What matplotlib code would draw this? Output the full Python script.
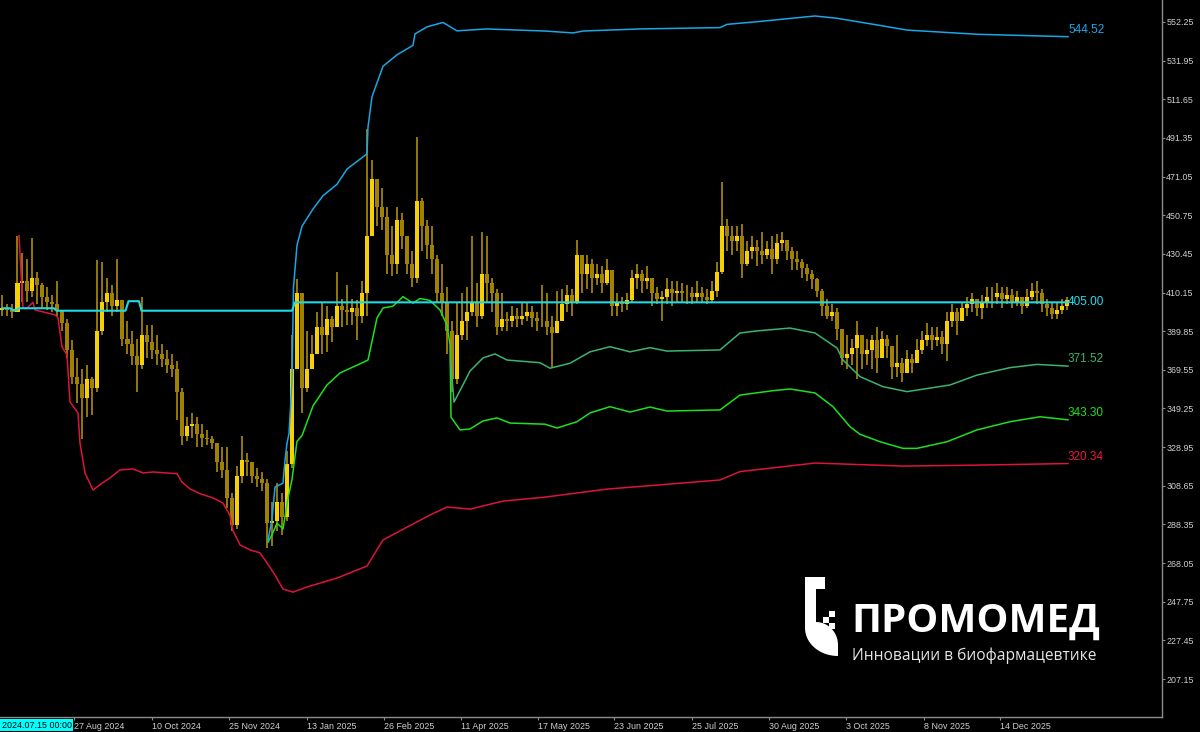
#!/usr/bin/env python3
import matplotlib

matplotlib.use("Agg")
import matplotlib.pyplot as plt
import numpy as np
from matplotlib.patches import Polygon, Rectangle

W, H = 1200, 732

# candles, one per ~2 sessions (open = previous close)
first_open = 401.0
close = [
    402, 401, 400, 415, 416, 411, 418, 414, 408, 405, 404, 401, 394, 380, 366, 362, 355, 365, 360, 390,
    405, 410, 403, 406, 386, 383, 377, 372, 388, 384, 380, 378, 375, 372, 370, 358, 335, 340, 341, 336,
    334, 333, 331, 321, 317, 302, 288, 314, 322, 321, 314, 312, 310, 289,
    290, 300, 292, 320, 370, 410, 360, 370, 378, 392, 388, 396, 392, 403, 401, 400, 402, 398, 410, 440,
    470, 455, 450, 430, 425, 448, 440, 425, 418, 458, 445, 435, 428, 410, 405, 390, 365, 388, 395, 400,
    405, 398, 420, 415, 410, 392, 396, 395, 398, 396, 398, 400, 397, 395,
    395, 392, 389, 395, 404, 409, 405, 430, 420, 425, 418, 420, 415, 422, 403, 405, 404, 406, 418, 420,
    416, 418, 410, 407, 408, 412, 410, 411, 410, 410, 408, 410, 408, 406, 411, 421, 445, 440, 437, 440,
    425, 432, 434, 432, 430, 433, 428, 436, 438, 432, 428, 426, 423, 420, 417,
    411, 403, 398, 400, 391, 376, 378, 381, 388, 378, 380, 385, 376, 386, 382, 371, 373, 368, 375, 373,
    380, 385, 388, 385, 387, 383, 395, 400, 395, 402, 404, 407, 402, 405, 408, 408, 410, 407, 409, 405,
    408, 403, 408, 411, 410, 404, 402, 399, 401, 403, 406,
]
high = [
    409, 404, 404, 440, 431, 428, 439, 421, 415, 413, 409, 416, 401, 396, 385, 376, 370, 372, 366, 427,
    426, 418, 414, 428, 405, 395, 390, 386, 408, 393, 393, 388, 383, 380, 378, 374, 360, 345, 347, 345,
    341, 338, 335, 331, 329, 329, 305, 319, 335, 326, 320, 318, 316, 312,
    300, 310, 305, 327, 388, 417, 405, 390, 388, 400, 405, 403, 398, 421, 407, 414, 407, 406, 416, 496,
    480, 470, 465, 455, 445, 455, 452, 440, 432, 492, 460, 448, 445, 430, 425, 413, 395, 405, 410, 413,
    440, 415, 442, 440, 418, 412, 410, 400, 403, 402, 405, 405, 403, 400,
    414, 410, 398, 411, 412, 414, 412, 438, 428, 430, 428, 425, 424, 428, 420, 410, 408, 410, 422, 425,
    422, 424, 418, 413, 411, 418, 416, 416, 415, 414, 413, 416, 413, 412, 416, 426, 468, 449, 445, 445,
    446, 437, 440, 438, 442, 437, 440, 441, 442, 437, 434, 432, 428, 425, 422,
    418, 412, 407, 404, 402, 391, 388, 386, 395, 384, 386, 388, 392, 390, 388, 378, 388, 376, 380, 378,
    386, 390, 394, 392, 392, 390, 400, 404, 402, 405, 408, 410, 407, 409, 413, 413, 415, 413, 413, 412,
    411, 408, 412, 415, 416, 412, 407, 405, 405, 407, 408,
]
low = [
    398, 398, 397, 401, 405, 405, 408, 404, 402, 401, 400, 398, 390, 376, 362, 352, 333, 345, 346, 358,
    388, 400, 398, 400, 382, 378, 372, 358, 370, 376, 375, 372, 371, 368, 366, 343, 330, 332, 334, 329,
    329, 330, 328, 316, 313, 297, 285, 286, 310, 314, 310, 308, 306, 276,
    277, 285, 283, 290, 318, 380, 347, 358, 370, 380, 378, 379, 384, 395, 392, 393, 393, 385, 394, 398,
    440, 445, 443, 420, 419, 420, 433, 420, 413, 415, 432, 428, 420, 405, 398, 378, 358, 362, 385, 385,
    398, 392, 396, 405, 400, 388, 390, 390, 392, 392, 393, 395, 392, 390,
    392, 388, 371, 389, 395, 400, 398, 404, 410, 412, 410, 414, 410, 414, 398, 398, 400, 401, 405, 412,
    410, 412, 403, 404, 395, 404, 403, 405, 405, 404, 404, 405, 405, 404, 405, 408, 420, 432, 430, 432,
    418, 424, 428, 424, 425, 428, 420, 425, 432, 427, 422, 422, 418, 416, 412,
    408, 398, 396, 395, 385, 372, 370, 372, 365, 370, 372, 370, 368, 378, 376, 365, 366, 363, 370, 368,
    375, 378, 382, 380, 382, 378, 374, 392, 388, 395, 398, 400, 398, 396, 402, 402, 404, 402, 404, 402,
    403, 399, 402, 406, 404, 400, 398, 396, 396, 399, 401,
]

# indicator lines: bar position, price
level_x = [0, 1.5, 2, 2.8, 3.3, 10.3, 10.8, 24.6, 25.2, 27.3, 27.8, 57.9, 58.5, 213.1]
level_y = [401.9, 401.9, 401.0, 401.0, 401.9, 401.9, 400.6, 400.6, 405.6, 405.6, 400.6, 400.6, 405.0, 405.0]

upper_x = [53.1, 53.9, 54.5, 56.1, 56.5, 56.9, 57.3, 57.9, 58.2, 58.9, 59.9, 62.1, 64.1, 66.9, 68.9,
           70.9, 72.9, 73.1, 73.9, 76.1, 78.9, 82.1, 82.5, 84.9, 88.1, 90.9, 96.9, 108.5, 114.1, 116.1,
           127.5, 143.5, 144.9, 150.9, 162.5, 166.9, 174.9, 180.9, 194.9, 213.1]
upper_y = [280, 291, 308, 310, 322, 331, 336, 363, 413, 435, 445, 454, 461, 467, 475,
           479, 483, 497, 513, 529, 535, 540, 546, 549.7, 552, 547.6, 548.6, 547.5, 546.5, 547.5,
           548.6, 549.3, 551, 552.4, 555.4, 554.2, 550.7, 548, 545.8, 544.52]

mid_x = [89.6, 90.3, 91.9, 93.5, 96.1, 98.5, 100.9, 107.5, 109.5, 113.5, 117.5, 121.5, 125.5, 129.5,
         132.9, 143.5, 147.5, 150.9, 157.5, 162.5, 166.9, 168.1, 171.5, 176.1, 180.9, 189.5, 194.9,
         201.5, 206.9, 213.1]
mid_y = [375, 352.6, 360.7, 368.9, 375.8, 377.9, 374.7, 373.3, 370.4, 373, 379, 381.7, 379, 381.2,
         379.4, 380, 388.9, 390, 391.5, 388.9, 381, 374.7, 366, 360.7, 358.1, 361.6, 366.8,
         370.7, 372.4, 371.52]

green_x = [53.1, 53.9, 54.9, 56.1, 57.1, 57.9, 58.9, 59.9, 62.1, 64.9, 67.5, 70.9, 73.1, 74.9, 76.1,
           78.1, 80.1, 82.1, 83.5, 85.5, 87.5, 88.9, 89.5, 89.7, 91.5, 93.5, 96.1, 98.9, 101.5, 108.5,
           110.9, 114.9, 117.5, 121.5, 125.5, 129.5, 132.9, 143.5, 147.5, 154.1, 157.5, 162.5, 166.1,
           169.5, 171.5, 175.5, 180.1, 182.9, 188.9, 194.9, 201.5, 207.5, 213.1]
green_y = [279, 283, 289, 286, 302, 312, 332, 335, 350.6, 361.6, 367.9, 372, 374.7, 396.8, 402,
           403, 408, 404.6, 407, 406, 401, 393, 383, 344.7, 338, 338.5, 342.7, 344.3, 341.6, 341,
           339, 342.3, 346.9, 350.2, 347.4, 350, 347.9, 348.5, 356.3, 358.6, 359.5, 357.4, 350.2,
           339.7, 335.7, 331.8, 328.3, 328.3, 331.8, 338, 342.3, 344.9, 343.3]

lower_x = [3.3, 4.1, 4.9, 6.1, 6.5, 8.1, 10.5, 11.1, 11.9, 12.9, 13.5, 15.1, 15.5, 16.5, 18.1, 19.9,
           21.5, 23.5, 26.1, 28.1, 30.1, 34.9, 35.9, 37.5, 39.5, 42.1, 44.1, 45.5, 46.1, 47.5, 49.5,
           51.5, 52.9, 54.5, 56.1, 58.1, 60.9, 66.9, 72.9, 76.1, 82.1, 85.5, 88.9, 93.5, 100.1, 108.5,
           120.9, 143.5, 147.5, 162.5, 180.1, 194.9, 213.1]
lower_y = [440, 402, 402, 405, 401, 400, 398.4, 396.8, 381.6, 377.4, 352.7, 346.9, 331, 315.4, 306.4, 310,
           312.8, 317, 317.5, 315.4, 315.9, 315, 310.6, 307, 304.5, 302.3, 299.6, 293, 285, 277.6, 275,
           273.4, 268.2, 261.8, 254.4, 252.8, 255.5, 260.2, 266.5, 280.2, 288.6, 293.3, 297.5, 296.4, 300.6, 302.7,
           306.9, 311.7, 316.1, 320.6, 319, 319.5, 320.34]

price_ticks = [552.25, 531.95, 511.65, 491.35, 471.05, 450.75, 430.45, 410.15, 389.85,
               369.55, 349.25, 328.95, 308.65, 288.35, 268.05, 247.75, 227.45, 207.15]
date_pos = [14.4, 30.0, 45.4, 60.9, 76.3, 91.7, 107.2, 122.4, 137.9, 153.4, 168.8, 184.3, 199.6]
date_labels = ["27 Aug 2024", "10 Oct 2024", "25 Nov 2024", "13 Jan 2025", "26 Feb 2025",
               "11 Apr 2025", "17 May 2025", "23 Jun 2025", "25 Jul 2025", "30 Aug 2025",
               "3 Oct 2025", "8 Nov 2025", "14 Dec 2025"]

UP = "#F7D000"
DOWN = "#A08200"
WICK = "#9F8208"
GREY = "#8C8C8C"
TXT = "#D0D0D0"

plt.rcParams["font.family"] = ["Liberation Sans", "DejaVu Sans"]


def fig_xy(x, y):
    # pixel position (from top-left) to figure fraction
    return x / W, 1 - y / H


fig = plt.figure(figsize=(W / 100, H / 100), dpi=100, facecolor="black")
ax = fig.add_axes([0, 15 / H, 1162 / W, 717 / H])
ax.set_facecolor("black")

c = np.array(close, dtype=float)
o = np.concatenate([[first_open], c[:-1]])
hi = np.maximum(np.array(high, dtype=float), np.maximum(o, c))
lo = np.minimum(np.array(low, dtype=float), np.minimum(o, c))
idx = np.arange(len(c))
up = c >= o

ax.vlines(idx, lo, hi, color=WICK, linewidth=1.3, zorder=2)
ax.bar(idx[up], (c - o)[up], bottom=o[up], width=0.8, color=UP, linewidth=0, zorder=2.5)
ax.bar(idx[~up], (o - c)[~up], bottom=c[~up], width=0.8, color=DOWN, linewidth=0, zorder=2.5)

ax.plot(lower_x, lower_y, color="#DC143C", lw=1.1, zorder=3)
ax.plot(green_x, green_y, color="#1EE01E", lw=1.1, zorder=3)
ax.plot(mid_x, mid_y, color="#3CB371", lw=1.1, zorder=3)
ax.plot(upper_x, upper_y, color="#1AA6E6", lw=1.1, zorder=3)
ax.plot(level_x, level_y, color="#22D8E6", lw=1.5, zorder=4)

# last-value labels at the line ends
end_labels = [
    (upper_x[-1], upper_y[-1], "#1AA6E6", "bottom"),
    (level_x[-1], level_y[-1], "#22E0F0", "center"),
    (mid_x[-1], mid_y[-1], "#3CB371", "bottom"),
    (green_x[-1], green_y[-1], "#1EE01E", "bottom"),
    (lower_x[-1], lower_y[-1], "#E8183F", "bottom"),
]
for x, v, col, va in end_labels:
    ax.annotate(f"{v:.2f}", xy=(x, v), xytext=(0, 0.5 if va == "bottom" else 0),
                textcoords="offset points", color=col, fontsize=8.5, ha="left", va=va, zorder=5)

ax.set_xlim(-0.5, 231.9)
ax.set_ylim(187.21, 563.8)

ax.yaxis.tick_right()
ax.set_yticks(price_ticks)
ax.set_yticklabels([f"{v:.2f}" for v in price_ticks])
ax.set_xticks(date_pos)
ax.set_xticklabels(date_labels, ha="left")
ax.tick_params(axis="y", direction="out", length=2.5, width=0.8, color=GREY,
               labelcolor=TXT, labelsize=6.4, pad=0.5)
ax.tick_params(axis="x", direction="out", length=2.5, width=0.8, color=GREY,
               labelcolor=TXT, labelsize=6.4, pad=0.8)
for side in ("top", "left"):
    ax.spines[side].set_visible(False)
for side in ("right", "bottom"):
    ax.spines[side].set_color(GREY)
    ax.spines[side].set_linewidth(1.0)

# crosshair date box
fig.text(*fig_xy(1.5, 725), "2024.07.15 00:00", color="black", fontsize=6.4,
         ha="left", va="center",
         bbox={"boxstyle": "square,pad=0.15", "facecolor": "#00FFFF", "edgecolor": "none"})

# watermark logo
t = np.linspace(0, 1, 20)
outer = [(805, 577), (825, 577), (825, 589), (816, 589), (816, 622)]
outer += [(816 + 22 * np.sin(a * np.pi / 2), 622 + 23 * (1 - np.cos(a * np.pi / 2))) for a in t]
outer += [(838, 656)]
outer += [(838 - 33 * np.sin(a * np.pi / 2), 656 - 28 * (1 - np.cos(a * np.pi / 2))) for a in t]
outer = [fig_xy(x, y) for x, y in outer]
fig.patches.append(Polygon(outer, closed=True, transform=fig.transFigure,
                           facecolor="white", edgecolor="none"))
for sx, sy in [(829, 611), (823, 617), (829, 623)]:
    x0, y0 = fig_xy(sx, sy + 6)
    fig.patches.append(Rectangle((x0, y0), 6 / W, 6 / H, transform=fig.transFigure,
                                 facecolor="white", edgecolor="none"))

fig.text(*fig_xy(851, 632), "ПРОМОМЕД", color="white", fontsize=29, fontweight="bold",
         family=["Open Sans", "DejaVu Sans"], ha="left", va="baseline")
fig.text(*fig_xy(852, 660), "Инновации в биофармацевтике", color="#E6E6E6", fontsize=11.2,
         family=["Open Sans", "DejaVu Sans"], ha="left", va="baseline")

fig.savefig("out.png", dpi=100, facecolor="black")
